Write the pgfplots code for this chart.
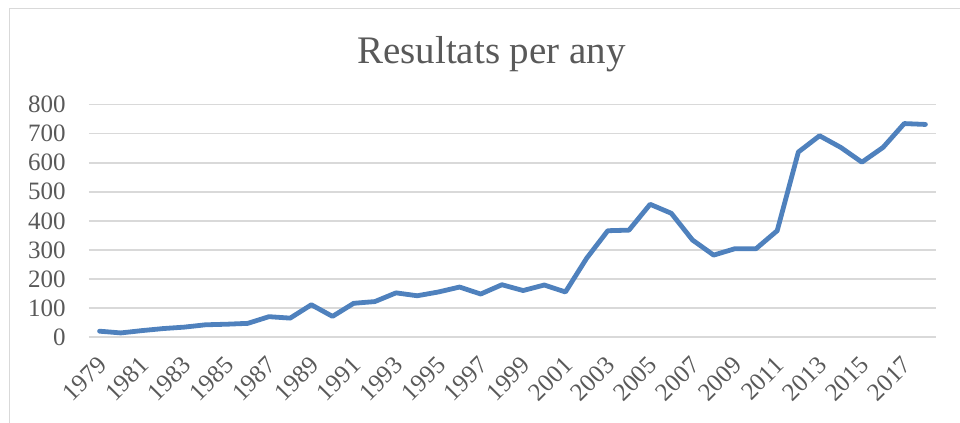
\documentclass[border=0pt]{standalone}
\usepackage{fontspec}
\setmainfont{Liberation Serif}
\usepackage{pgfplots}
\pgfplotsset{compat=1.18}

\definecolor{txtgray}{HTML}{595959}
\definecolor{gridgray}{HTML}{D9D9D9}
\definecolor{lineblue}{HTML}{4F81BD}

\begin{document}
\begin{tikzpicture}
% page frame (1px = 0.5pt)
\path[use as bounding box] (0,0) rectangle (480pt,211.5pt);
\draw[gridgray, line width=0.8pt] (4.75pt,0) -- (4.75pt,207.25pt) -- (480pt,207.25pt);

\begin{axis}[
    at={(44.5pt,43pt)}, anchor=south west,
    scale only axis,
    width=423.5pt, height=116.15pt,
    xmin=1978.5, xmax=2018.5,
    ymin=0, ymax=800,
    xtick={1979,1981,...,2017},
    ytick={0,100,...,800},
    axis line style={draw=none},
    tick style={draw=none},
    ymajorgrids=true,
    grid style={gridgray, line width=0.75pt},
    /pgf/number format/assume math mode=true,
    /pgf/number format/1000 sep={},
    ticklabel style={font=\fontsize{12.5}{14}\selectfont, text=txtgray},
    yticklabel style={anchor=east, inner sep=0pt, xshift=-11.5pt},
    xticklabel style={xshift=1.5pt, yshift=-12pt, rotate=45, anchor=east, inner sep=0pt},
]
\addplot[lineblue, line width=2.4pt, line join=round, line cap=round] coordinates {
    (1979, 20) (1980, 14) (1981, 22) (1982, 29) (1983, 34)
    (1984, 42) (1985, 44) (1986, 47) (1987, 70) (1988, 65)
    (1989, 111) (1990, 71) (1991, 116) (1992, 122) (1993, 152)
    (1994, 142) (1995, 155) (1996, 172) (1997, 148) (1998, 180)
    (1999, 160) (2000, 179) (2001, 155) (2002, 271) (2003, 366)
    (2004, 368) (2005, 457) (2006, 426) (2007, 334) (2008, 282)
    (2009, 304) (2010, 304) (2011, 366) (2012, 637) (2013, 693)
    (2014, 653) (2015, 602) (2016, 653) (2017, 735) (2018, 732)
};
\end{axis}

\node[anchor=base, text=txtgray, font=\fontsize{19.5}{22}\selectfont] at (245.75pt,179.5pt) {Resultats per any};
\end{tikzpicture}
\end{document}
